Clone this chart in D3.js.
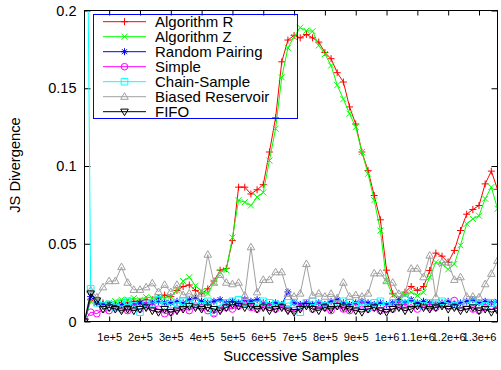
<!DOCTYPE html>
<html>
<head>
<meta charset="utf-8">
<script src="https://cdn.jsdelivr.net/npm/d3@7"></script>
<style>
  body { margin: 0; background: #fff; }
  svg { display: block; font-family: "Liberation Sans", Arial, Helvetica, sans-serif; }
</style>
</head>
<body>
<div id="chart"></div>
<script>
// Samples are taken every 20000 items (68 measurements)
const step = 20000;
const pointCount = 68;

const seriesNames = ["Algorithm R", "Algorithm Z", "Random Pairing", "Simple",
    "Chain-Sample", "Biased Reservoir", "FIFO"];

const algorithmR = [0, 0.014, 0.012, 0.012, 0.011, 0.011, 0.012, 0.012, 0.013, 0.013,
    0.014, 0.014, 0.015, 0.017, 0.016, 0.020, 0.0225, 0.0235, 0.020, 0.0178,
    0.021, 0.026, 0.033, 0.034, 0.052, 0.0864, 0.0864, 0.082, 0.0847, 0.088,
    0.109, 0.131, 0.167, 0.181, 0.184, 0.1824, 0.1846, 0.1824, 0.1797, 0.173,
    0.169, 0.160, 0.154, 0.138, 0.127, 0.109, 0.097, 0.081, 0.0654, 0.033,
    0.0178, 0.014, 0.0189, 0.0225, 0.020, 0.0225, 0.0328, 0.044, 0.042, 0.038,
    0.0457, 0.0585, 0.069, 0.072, 0.0746, 0.0885, 0.0967, 0.085];

const algorithmZ = [0, 0.013, 0.012, 0.011, 0.012, 0.013, 0.014, 0.014, 0.015, 0.014,
    0.0157, 0.015, 0.016, 0.015, 0.016, 0.020, 0.026, 0.0285, 0.023, 0.0195,
    0.018, 0.025, 0.0317, 0.033, 0.054, 0.078, 0.0767, 0.0746, 0.080, 0.083,
    0.1035, 0.124, 0.157, 0.176, 0.183, 0.189, 0.187, 0.1867, 0.1775, 0.172,
    0.1646, 0.152, 0.143, 0.1336, 0.125, 0.109, 0.095, 0.078, 0.0585, 0.026,
    0.0167, 0.0156, 0.017, 0.0188, 0.0167, 0.0188, 0.0285, 0.038, 0.037, 0.0335,
    0.037, 0.049, 0.0628, 0.066, 0.068, 0.079, 0.0864, 0.0725];

const randomPairing = [0, 0.016, 0.012, 0.011, 0.011, 0.010, 0.011, 0.010, 0.011, 0.012,
    0.011, 0.012, 0.013, 0.012, 0.012, 0.013, 0.012, 0.014, 0.015, 0.013,
    0.012, 0.013, 0.014, 0.012, 0.013, 0.012, 0.014, 0.013, 0.014, 0.012,
    0.011, 0.012, 0.011, 0.019, 0.012, 0.011, 0.012, 0.011, 0.012, 0.011,
    0.013, 0.014, 0.012, 0.011, 0.012, 0.013, 0.012, 0.011, 0.012, 0.011,
    0.012, 0.013, 0.012, 0.014, 0.012, 0.013, 0.012, 0.011, 0.012, 0.013,
    0.011, 0.012, 0.013, 0.014, 0.012, 0.013, 0.012, 0.013];

const simple = [0, 0.006, 0.005, 0.008, 0.007, 0.009, 0.008, 0.007, 0.009, 0.008,
    0.010, 0.009, 0.008, 0.005, 0.006, 0.008, 0.009, 0.007, 0.010, 0.009,
    0.007, 0.005, 0.008, 0.009, 0.008, 0.010, 0.0135, 0.009, 0.008, 0.010,
    0.009, 0.008, 0.010, 0.008, 0.007, 0.009, 0.011, 0.008, 0.010, 0.009,
    0.007, 0.010, 0.008, 0.007, 0.009, 0.010, 0.008, 0.009, 0.007, 0.008,
    0.008, 0.010, 0.009, 0.011, 0.008, 0.010, 0.009, 0.009, 0.011, 0.010,
    0.0135, 0.009, 0.010, 0.008, 0.007, 0.009, 0.010, 0.008];

const chainSample = [0.48, 0.021, 0.012, 0.010, 0.011, 0.009, 0.012, 0.013, 0.010, 0.006,
    0.011, 0.012, 0.014, 0.010, 0.011, 0.012, 0.013, 0.011, 0.012, 0.010,
    0.013, 0.006, 0.011, 0.012, 0.013, 0.014, 0.012, 0.010, 0.011, 0.013,
    0.012, 0.011, 0.010, 0.012, 0.011, 0.006, 0.012, 0.013, 0.011, 0.010,
    0.012, 0.011, 0.013, 0.012, 0.010, 0.011, 0.009, 0.012, 0.013, 0.010,
    0.012, 0.011, 0.014, 0.012, 0.011, 0.010, 0.012, 0.011, 0.013, 0.012,
    0.010, 0.011, 0.012, 0.013, 0.011, 0.010, 0.012, 0.011];

const biasedReservoir = [0, 0.020, 0.0156, 0.022, 0.026, 0.026, 0.035, 0.025, 0.0204, 0.0204,
    0.022, 0.0246, 0.019, 0.0236, 0.019, 0.0236, 0.017, 0.018, 0.016, 0.018,
    0.043, 0.025, 0.030, 0.025, 0.024, 0.025, 0.0167, 0.0478, 0.0188, 0.0268,
    0.0268, 0.0317, 0.0317, 0.0178, 0.016, 0.018, 0.037, 0.0167, 0.018, 0.016,
    0.0178, 0.015, 0.025, 0.016, 0.017, 0.016, 0.018, 0.031, 0.031, 0.026,
    0.025, 0.0178, 0.018, 0.034, 0.034, 0.0285, 0.0424, 0.0156, 0.038, 0.038,
    0.0268, 0.0285, 0.016, 0.016, 0.0156, 0.024, 0.0307, 0.039];

const fifo = [0, 0.018, 0.0135, 0.008, 0.009, 0.008, 0.007, 0.008, 0.007, 0.008,
    0.009, 0.007, 0.006, 0.008, 0.006, 0.007, 0.008, 0.010, 0.009, 0.008,
    0.009, 0.008, 0.007, 0.009, 0.011, 0.010, 0.009, 0.010, 0.008, 0.009,
    0.007, 0.008, 0.009, 0.007, 0.006, 0.008, 0.010, 0.008, 0.007, 0.009,
    0.008, 0.010, 0.009, 0.008, 0.007, 0.006, 0.008, 0.009, 0.007, 0.006,
    0.008, 0.009, 0.007, 0.008, 0.010, 0.009, 0.008, 0.009, 0.010, 0.008,
    0.009, 0.007, 0.008, 0.009, 0.007, 0.008, 0.006, 0.007];

const xTickValues = [1e5, 2e5, 3e5, 4e5, 5e5, 6e5, 7e5, 8e5, 9e5, 1e6, 1.1e6, 1.2e6, 1.3e6];
const xTickLabels = ["1e+5", "2e+5", "3e+5", "4e+5", "5e+5", "6e+5", "7e+5", "8e+5",
    "9e+5", "1e+6", "1.1e+6", "1.2e+6", "1.3e+6"];
const yTickValues = [0, 0.05, 0.1, 0.15, 0.2];
const yTickLabels = ["0", "0.05", "0.1", "0.15", "0.2"];

// Styles (gnuplot default palette)
const colors = ["#ff0000", "#00ff00", "#0000ff", "#ff00ff", "#00ffff", "#a0a0a0", "#000000"];
const markers = ["plus", "cross", "star", "circle", "square", "triangle", "triangleDown"];

const markerPath = (type) => {
    switch (type) {
        case "plus": return "M-3.5,0H3.5M0,-3.5V3.5";
        case "cross": return "M-3,-3L3,3M-3,3L3,-3";
        case "star": return "M-3.5,0H3.5M0,-3.5V3.5M-2.5,-2.5L2.5,2.5M-2.5,2.5L2.5,-2.5";
        case "circle": return "M3.3,0A3.3,3.3 0 1,1 -3.3,0A3.3,3.3 0 1,1 3.3,0Z";
        case "square": return "M-3.3,-3.3H3.3V3.3H-3.3Z";
        case "triangle": return "M0,-4L3.8,2.6H-3.8Z";
        case "triangleDown": return "M0,4L3.8,-2.6H-3.8Z";
    }
};

const allSeries = [algorithmR, algorithmZ, randomPairing, simple, chainSample, biasedReservoir, fifo];

const width = 501;
const height = 370;
const plot = { left: 84.5, right: 497.5, top: 10.5, bottom: 321.5 };

const svg = d3.select("#chart")
    .append("svg")
    .attr("width", width)
    .attr("height", height);

const xScale = d3.scaleLinear()
    .domain([step, step * pointCount])
    .range([plot.left, plot.right]);

const yScale = d3.scaleLinear()
    .domain([0, 0.2])
    .range([plot.bottom, plot.top]);

svg.append("clipPath")
    .attr("id", "plot-clip")
    .append("rect")
    .attr("x", plot.left)
    .attr("y", plot.top)
    .attr("width", plot.right - plot.left)
    .attr("height", plot.bottom - plot.top);

// Axes: inward ticks, mirrored on top and right
const xAxis = d3.axisBottom(xScale)
    .tickValues(xTickValues)
    .tickSize(-5)
    .tickPadding(12)
    .tickFormat((d, i) => xTickLabels[i]);

const xAxisTop = d3.axisTop(xScale).tickValues(xTickValues).tickSize(-5).tickFormat("");

const yAxis = d3.axisLeft(yScale)
    .tickValues(yTickValues)
    .tickSize(-6)
    .tickPadding(8)
    .tickFormat((d, i) => yTickLabels[i]);

const yAxisRight = d3.axisRight(yScale).tickValues(yTickValues).tickSize(-6).tickFormat("");

const gx = svg.append("g")
    .attr("transform", `translate(0, ${plot.bottom})`)
    .call(xAxis);
gx.selectAll("text").attr("font-size", 11).attr("fill", "#000");

svg.append("g").attr("transform", `translate(0, ${plot.top})`).call(xAxisTop);

const gy = svg.append("g")
    .attr("transform", `translate(${plot.left}, 0)`)
    .call(yAxis);
gy.selectAll("text").attr("font-size", 14.5).attr("fill", "#000");

svg.append("g").attr("transform", `translate(${plot.right}, 0)`).call(yAxisRight);

svg.selectAll(".domain").remove();
svg.selectAll(".tick line").attr("stroke", "#000");

// Series
const line = d3.line()
    .x((d, i) => xScale(step * (i + 1)))
    .y((d) => yScale(d));

const plotArea = svg.append("g").attr("clip-path", "url(#plot-clip)");

allSeries.forEach((values, s) => {
    const g = plotArea.append("g");
    g.append("path")
        .datum(values)
        .attr("fill", "none")
        .attr("stroke", colors[s])
        .attr("stroke-width", 1)
        .attr("d", line);
    g.selectAll("path.marker")
        .data(values)
        .enter()
        .append("path")
        .attr("class", "marker")
        .attr("d", markerPath(markers[s]))
        .attr("transform", (d, i) => `translate(${xScale(step * (i + 1))}, ${yScale(d)})`)
        .attr("fill", "none")
        .attr("stroke", colors[s])
        .attr("stroke-width", 1);
});

// Frame
svg.append("rect")
    .attr("x", plot.left)
    .attr("y", plot.top)
    .attr("width", plot.right - plot.left)
    .attr("height", plot.bottom - plot.top)
    .attr("fill", "none")
    .attr("stroke", "#000")
    .attr("stroke-width", 1);

// Legend
const legend = svg.append("g");
legend.append("rect")
    .attr("x", 93.5)
    .attr("y", 14.5)
    .attr("width", 204)
    .attr("height", 104)
    .attr("fill", "none")
    .attr("stroke", "#0000ff")
    .attr("stroke-width", 1);

seriesNames.forEach((name, s) => {
    const y = 21.7 + s * 15;
    legend.append("line")
        .attr("x1", 103).attr("x2", 146)
        .attr("y1", y).attr("y2", y)
        .attr("stroke", colors[s]);
    legend.append("path")
        .attr("d", markerPath(markers[s]))
        .attr("transform", `translate(124.5, ${y})`)
        .attr("fill", "none")
        .attr("stroke", colors[s]);
    legend.append("text")
        .attr("x", 155)
        .attr("y", y)
        .attr("dy", "0.36em")
        .attr("font-size", 15)
        .text(name);
});

// Axis titles
svg.append("text")
    .attr("x", 291)
    .attr("y", 356)
    .attr("dy", "0.36em")
    .attr("text-anchor", "middle")
    .attr("font-size", 14.7)
    .text("Successive Samples");

svg.append("text")
    .attr("transform", "translate(15, 165) rotate(-90)")
    .attr("dy", "0.36em")
    .attr("text-anchor", "middle")
    .attr("font-size", 14.7)
    .text("JS Divergence");
</script>
</body>
</html>
